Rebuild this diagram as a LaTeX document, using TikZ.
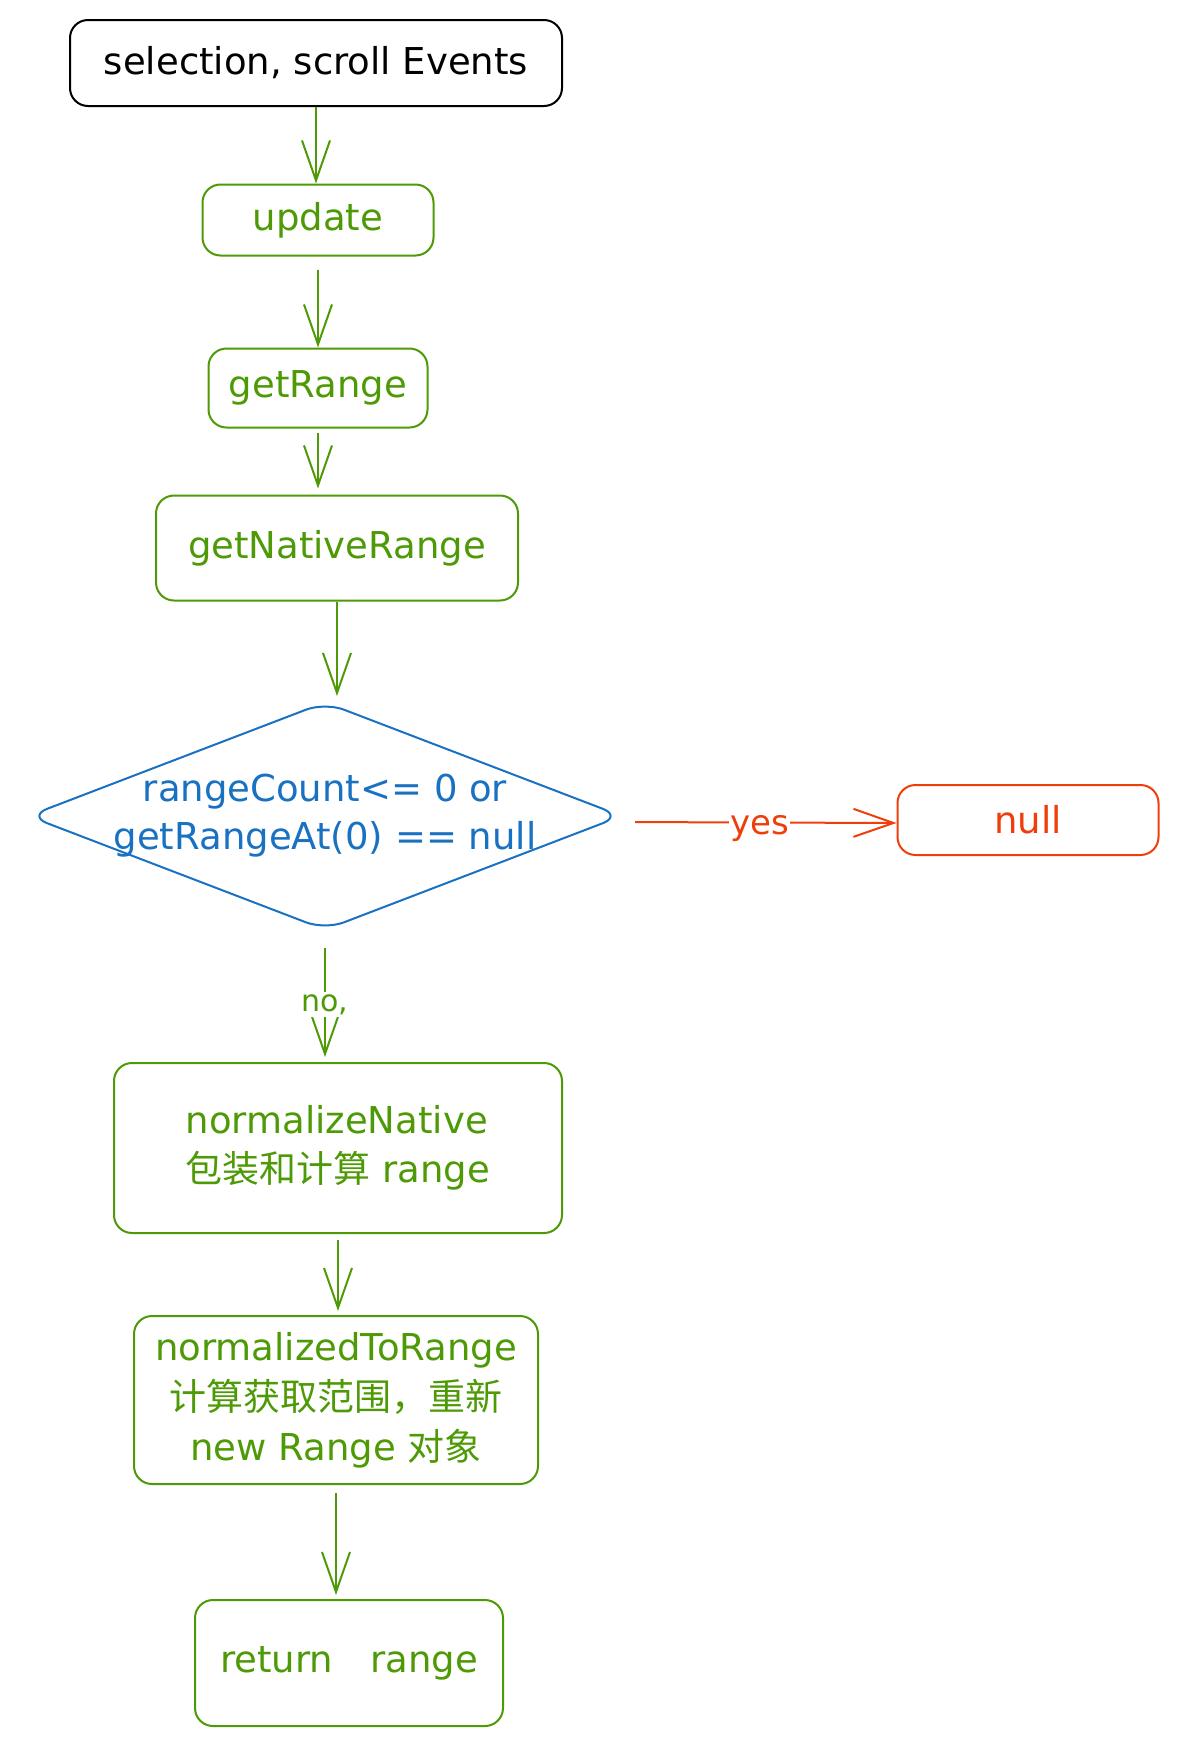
\documentclass[tikz,border=0pt]{standalone}
\usepackage{fontspec}
\setmainfont{DejaVu Sans}
\newfontfamily\cjk{Noto Sans CJK SC}
\usetikzlibrary{arrows.meta,shapes.geometric}
\definecolor{flowgreen}{HTML}{4E9A06}
\definecolor{flowblue}{HTML}{1971C2}
\definecolor{flowred}{HTML}{F03E0A}
\tikzset{
  box/.style={draw, rectangle, rounded corners=18pt, line width=2pt, inner sep=0pt,
    align=center, font=\fontsize{37}{49}\selectfont},
  greenbox/.style={box, draw=flowgreen, text=flowgreen},
  flow/.style={->, line width=2pt, flowgreen},
}
\begin{document}
\begin{tikzpicture}[x=1pt, y=-1pt, >={Straight Barb[length=40pt,width=28pt]}]
\useasboundingbox (0,0) rectangle (1177,1746);
\node[box, minimum width=492pt, minimum height=86pt] (events) at (316,63) {selection, scroll Events};
\node[greenbox, minimum width=231pt, minimum height=71pt] (update) at (318,220) {update};
\node[greenbox, minimum width=219pt, minimum height=79pt] (getrange) at (318,388) {getRange};
\node[greenbox, minimum width=362pt, minimum height=105pt] (native) at (337,548) {getNativeRange};
\node[draw=flowblue, diamond, line width=2pt, rounded corners=20pt, inner sep=0pt,
  minimum width=594pt, minimum height=228pt,
  label={[text=flowblue, align=center, font=\fontsize{37}{48}\selectfont]center:rangeCount<= 0 or\\getRangeAt(0) == null}]
  (check) at (325,816) {};
\node[box, draw=flowred, text=flowred, minimum width=261pt, minimum height=70pt] (null) at (1028,820) {null};
\node[greenbox, minimum width=448pt, minimum height=170pt, align=left] (normnative) at (338,1148)
  {normalizeNative\\{\cjk 包装和计算} range};
\node[greenbox, minimum width=404pt, minimum height=168pt, font=\fontsize{37}{50}\selectfont] (normrange) at (336,1400)
  {normalizedToRange\\{\cjk 计算获取范围，重新}\\new Range {\cjk 对象}};
\node[greenbox, minimum width=308pt, minimum height=126pt] (result) at (349,1663) {return\quad range};

\draw[flow] (events.south) -- (events.south |- update.north);
\draw[flow, shorten <=13pt] (update.south) -- (update.south |- getrange.north);
\draw[flow, shorten <=4pt, shorten >=6pt] (getrange.south) -- (getrange.south |- native.north);
\draw[flow, shorten >=5pt] (native.south) -- (native.south |- check.north);
\draw[flow, shorten <=17pt, shorten >=5pt] (check.south) -- node[pos=0.56, fill=white, inner sep=2pt, font=\fontsize{30}{32}\selectfont] {no,} (check.south |- normnative.north);
\draw[flow, shorten <=6pt, shorten >=4pt] (normnative.south) -- (normnative.south |- normrange.north);
\draw[flow, shorten <=8pt, shorten >=4pt] (normrange.south) -- (normrange.south |- result.north);
\draw[->, line width=2pt, flowred, shorten <=12pt] ([yshift=-6pt]check.east) -- node[pos=0.5, yshift=-6pt, fill=white, inner sep=1pt, font=\fontsize{34}{36}\selectfont] {yes} ([yshift=-3pt]null.west);
\end{tikzpicture}
\end{document}
